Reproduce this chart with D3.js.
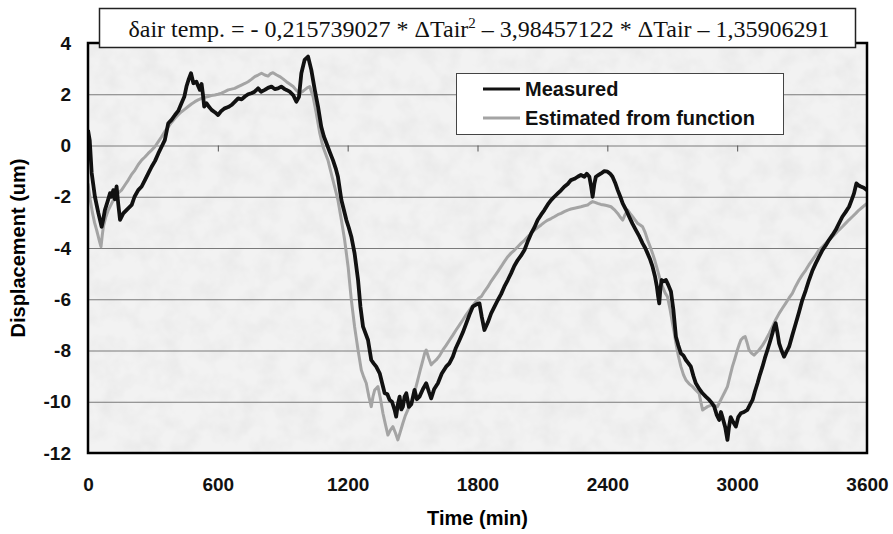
<!DOCTYPE html>
<html>
<head>
<meta charset="utf-8">
<script src="https://cdn.jsdelivr.net/npm/d3@7"></script>
<style>
  body { margin: 0; background: #fff; }
  svg { display: block; }
  .tick text { font-family: "Liberation Sans", Arial, sans-serif; font-weight: bold; font-size: 19px; fill: #111; }
</style>
</head>
<body>
<div id="chart-area"></div>
<script>
const W = 893, H = 534
const MARGIN = { LEFT: 88, RIGHT: 26, TOP: 43, BOTTOM: 81 }

const xTicks = [0, 600, 1200, 1800, 2400, 3000, 3600]
const yTicks = [4, 2, 0, -2, -4, -6, -8, -10, -12]
const gridValues = [2, 0, -2, -4, -6, -8, -10]

// [time (min), displacement (um)]
const measured = [
  [0,0.6],[8,0.2],[17,-1.07],[32,-2.0],[48,-2.64],[63,-3.17],[70,-2.9],[78,-2.52],[90,-2.2],[102,-1.86],
  [108,-2.0],[117,-1.74],[124,-2.1],[132,-1.6],[140,-2.3],[148,-2.9],[163,-2.65],[180,-2.5],[202,-2.32],[215,-2.0],
  [232,-1.74],[248,-1.6],[263,-1.35],[278,-1.1],[294,-0.83],[310,-0.6],[325,-0.31],[340,-0.05],[355,0.21],[371,0.87],
  [386,1.0],[402,1.19],[417,1.35],[432,1.65],[445,1.9],[455,2.3],[466,2.6],[476,2.82],[487,2.43],[501,2.49],
  [510,2.3],[517,2.17],[525,2.4],[531,2.0],[537,1.52],[548,1.65],[560,1.5],[571,1.39],[586,1.3],[601,1.19],
  [616,1.35],[632,1.45],[648,1.5],[663,1.58],[678,1.7],[694,1.84],[710,1.8],[725,1.91],[740,2.0],[755,2.04],
  [770,2.1],[786,2.23],[800,2.1],[817,2.17],[832,2.25],[848,2.3],[863,2.2],[878,2.23],[893,2.3],[909,2.2],
  [917,2.17],[932,2.1],[948,1.97],[963,1.71],[975,1.9],[986,2.82],[1001,3.34],[1017,3.47],[1032,2.95],[1048,2.17],
  [1063,1.52],[1078,0.73],[1090,0.35],[1102,0.09],[1117,-0.25],[1132,-0.57],[1145,-0.9],[1155,-1.22],[1171,-2.13],[1182,-2.5],
  [1194,-2.91],[1205,-3.2],[1217,-3.56],[1232,-4.21],[1248,-5.25],[1259,-6.29],[1271,-7.07],[1294,-7.59],[1309,-8.37],[1320,-8.5],
  [1332,-8.63],[1348,-8.89],[1360,-9.3],[1371,-9.67],[1383,-9.7],[1394,-9.93],[1405,-10.0],[1417,-10.32],[1424,-10.58],[1432,-10.1],
  [1440,-9.8],[1448,-10.3],[1455,-10.2],[1463,-9.8],[1471,-9.67],[1483,-10.2],[1494,-10.1],[1509,-9.54],[1520,-9.9],[1532,-9.8],
  [1548,-9.5],[1563,-9.28],[1575,-9.6],[1586,-9.87],[1600,-9.5],[1617,-9.28],[1635,-8.9],[1655,-8.63],[1670,-8.5],[1686,-8.24],
  [1700,-7.9],[1717,-7.59],[1732,-7.3],[1748,-6.94],[1763,-6.6],[1778,-6.29],[1795,-6.2],[1809,-6.16],[1820,-6.7],[1832,-7.2],
  [1848,-6.9],[1863,-6.55],[1878,-6.3],[1894,-6.03],[1909,-5.8],[1924,-5.51],[1940,-5.25],[1955,-4.99],[1970,-4.7],[1986,-4.47],
  [2001,-4.3],[2017,-4.08],[2032,-3.75],[2048,-3.43],[2063,-3.2],[2078,-2.91],[2094,-2.7],[2109,-2.52],[2125,-2.3],[2140,-2.13],
  [2155,-2.0],[2171,-1.87],[2186,-1.75],[2201,-1.61],[2217,-1.5],[2232,-1.35],[2248,-1.3],[2263,-1.22],[2278,-1.15],[2294,-1.22],
  [2305,-1.1],[2317,-1.22],[2325,-1.6],[2332,-2.0],[2340,-1.5],[2347,-1.22],[2360,-1.15],[2371,-1.09],[2386,-1.0],[2401,-1.02],
  [2413,-1.1],[2424,-1.22],[2436,-1.45],[2448,-1.74],[2460,-2.0],[2471,-2.26],[2486,-2.5],[2501,-2.78],[2516,-3.05],[2532,-3.3],
  [2548,-3.55],[2563,-3.82],[2575,-4.0],[2586,-4.21],[2598,-4.45],[2609,-4.73],[2620,-5.1],[2629,-5.51],[2635,-5.9],[2640,-6.16],
  [2645,-5.6],[2651,-5.25],[2660,-5.3],[2671,-5.25],[2682,-5.45],[2694,-5.7],[2705,-6.4],[2717,-7.46],[2728,-7.8],[2740,-8.11],
  [2752,-8.2],[2763,-8.37],[2775,-8.5],[2786,-8.63],[2798,-9.0],[2809,-9.28],[2825,-9.5],[2840,-9.67],[2855,-9.8],[2871,-9.93],
  [2883,-10.05],[2894,-10.19],[2905,-10.5],[2917,-10.71],[2925,-10.4],[2932,-10.6],[2945,-11.0],[2955,-11.49],[2962,-11.0],[2970,-10.6],
  [2982,-10.8],[2994,-10.97],[3005,-10.6],[3017,-10.45],[3032,-10.4],[3047,-10.32],[3060,-10.1],[3071,-9.93],[3082,-9.6],[3094,-9.28],
  [3105,-8.95],[3117,-8.63],[3128,-8.3],[3140,-7.98],[3152,-7.65],[3163,-7.33],[3170,-7.1],[3178,-6.94],[3186,-7.3],[3194,-7.72],
  [3205,-8.0],[3217,-8.24],[3228,-8.05],[3240,-7.85],[3255,-7.4],[3271,-6.94],[3286,-6.5],[3301,-6.03],[3317,-5.65],[3332,-5.25],
  [3347,-4.9],[3363,-4.6],[3378,-4.35],[3394,-4.08],[3409,-3.9],[3424,-3.69],[3440,-3.5],[3455,-3.3],[3470,-3.05],[3486,-2.78],
  [3501,-2.6],[3517,-2.39],[3530,-2.1],[3540,-1.87],[3551,-1.48],[3560,-1.55],[3571,-1.6],[3585,-1.65],[3600,-1.74]
]

const estimated = [
  [0,-1.48],[10,-2.1],[20,-2.6],[30,-3.0],[40,-3.3],[52,-3.7],[60,-3.95],[66,-3.5],[71,-3.17],[82,-2.8],
  [94,-2.52],[110,-2.25],[125,-2.0],[140,-1.85],[155,-1.74],[170,-1.55],[186,-1.35],[200,-1.15],[217,-0.96],[232,-0.75],
  [248,-0.57],[263,-0.45],[278,-0.31],[294,-0.18],[309,-0.05],[325,0.15],[340,0.34],[355,0.55],[371,0.73],[386,0.9],
  [402,1.06],[417,1.2],[432,1.32],[448,1.42],[463,1.52],[478,1.62],[494,1.71],[509,1.78],[525,1.84],[540,1.88],
  [555,1.91],[570,1.95],[586,1.97],[601,2.0],[617,2.04],[632,2.1],[648,2.17],[663,2.2],[678,2.23],[694,2.3],
  [709,2.36],[725,2.42],[740,2.49],[755,2.58],[771,2.69],[786,2.75],[802,2.82],[817,2.75],[832,2.71],[843,2.8],
  [855,2.84],[870,2.76],[886,2.69],[901,2.6],[917,2.49],[932,2.4],[948,2.3],[963,2.15],[978,2.04],[990,2.1],
  [1001,2.17],[1013,2.25],[1025,2.3],[1040,1.91],[1055,1.26],[1071,0.48],[1086,-0.05],[1097,-0.3],[1109,-0.57],[1120,-0.95],
  [1132,-1.35],[1144,-1.75],[1155,-2.13],[1171,-2.91],[1186,-3.69],[1202,-4.73],[1217,-6.03],[1232,-7.07],[1248,-7.98],[1263,-8.76],
  [1275,-9.05],[1286,-9.28],[1298,-9.8],[1309,-10.19],[1317,-9.8],[1325,-9.54],[1340,-9.41],[1352,-9.9],[1363,-10.45],[1375,-10.9],
  [1386,-11.3],[1398,-11.1],[1409,-10.97],[1420,-11.2],[1432,-11.49],[1444,-11.15],[1455,-10.84],[1466,-10.55],[1478,-10.32],[1490,-10.1],
  [1501,-9.93],[1512,-9.55],[1524,-9.15],[1536,-8.75],[1548,-8.37],[1556,-8.1],[1563,-7.98],[1575,-8.3],[1586,-8.56],[1598,-8.45],
  [1609,-8.37],[1625,-8.2],[1640,-7.98],[1655,-7.8],[1671,-7.59],[1686,-7.4],[1701,-7.2],[1717,-7.0],[1732,-6.81],[1748,-6.6],
  [1763,-6.42],[1786,-6.16],[1806,-5.95],[1817,-5.9],[1832,-5.7],[1848,-5.51],[1863,-5.3],[1878,-5.12],[1894,-4.92],[1909,-4.73],
  [1924,-4.53],[1940,-4.34],[1955,-4.2],[1971,-4.08],[1986,-3.95],[2001,-3.82],[2017,-3.7],[2032,-3.56],[2048,-3.43],[2063,-3.3],
  [2078,-3.2],[2094,-3.1],[2109,-3.0],[2125,-2.91],[2140,-2.85],[2155,-2.78],[2171,-2.7],[2186,-2.65],[2201,-2.58],[2217,-2.52],
  [2232,-2.48],[2248,-2.45],[2263,-2.42],[2278,-2.39],[2294,-2.35],[2309,-2.32],[2320,-2.25],[2332,-2.19],[2343,-2.22],[2355,-2.26],
  [2370,-2.3],[2386,-2.32],[2401,-2.35],[2417,-2.39],[2432,-2.5],[2448,-2.65],[2460,-2.8],[2471,-2.91],[2482,-2.7],[2494,-2.52],
  [2505,-2.65],[2517,-2.78],[2528,-2.9],[2540,-3.04],[2552,-3.1],[2563,-3.17],[2575,-3.4],[2586,-3.69],[2598,-3.95],[2609,-4.21],
  [2620,-4.5],[2632,-4.86],[2643,-5.2],[2655,-5.51],[2667,-5.75],[2678,-5.9],[2690,-6.4],[2701,-6.94],[2709,-7.3],[2717,-7.72],
  [2728,-8.2],[2740,-8.63],[2752,-8.95],[2763,-9.15],[2778,-9.3],[2794,-9.41],[2809,-9.55],[2824,-9.67],[2832,-10.0],[2840,-10.32],
  [2852,-10.25],[2863,-10.19],[2875,-10.15],[2886,-10.1],[2898,-10.15],[2909,-10.19],[2920,-10.0],[2932,-9.8],[2944,-9.6],[2955,-9.41],
  [2967,-9.0],[2978,-8.63],[2990,-8.3],[3001,-7.98],[3010,-7.75],[3017,-7.59],[3027,-7.5],[3037,-7.46],[3046,-7.7],[3055,-7.98],
  [3066,-8.1],[3078,-8.18],[3090,-8.08],[3101,-7.98],[3117,-7.8],[3132,-7.59],[3148,-7.33],[3163,-7.07],[3178,-6.8],[3194,-6.55],
  [3209,-6.35],[3224,-6.16],[3240,-5.95],[3255,-5.77],[3270,-5.5],[3286,-5.25],[3301,-5.05],[3317,-4.86],[3332,-4.65],[3347,-4.47],
  [3363,-4.28],[3378,-4.08],[3394,-3.95],[3409,-3.82],[3424,-3.7],[3440,-3.56],[3455,-3.43],[3470,-3.3],[3486,-3.17],[3501,-3.04],
  [3517,-2.9],[3532,-2.78],[3548,-2.65],[3563,-2.52],[3580,-2.4],[3600,-2.26]
]

const seriesNames = ["Measured", "Estimated from function"]
const seriesColors = ["#111111", "#a4a4a4"]

const x = d3.scaleLinear().domain([0, 3600]).range([MARGIN.LEFT, W - MARGIN.RIGHT])
const y = d3.scaleLinear().domain([-12, 4]).range([H - MARGIN.BOTTOM, MARGIN.TOP])

const svg = d3.select("#chart-area").append("svg")
  .attr("width", W)
  .attr("height", H)

// mottled plot background
const defs = svg.append("defs")
const f = defs.append("filter").attr("id", "mottle")
  .attr("x", 0).attr("y", 0).attr("width", 1).attr("height", 1)
f.append("feTurbulence")
  .attr("type", "fractalNoise")
  .attr("baseFrequency", 0.05)
  .attr("numOctaves", 3)
  .attr("seed", 7)
f.append("feColorMatrix")
  .attr("type", "matrix")
  .attr("values", "0 0 0 0 0.5  0 0 0 0 0.5  0 0 0 0 0.5  0.3 0 0 0 -0.11")
defs.append("clipPath").attr("id", "plotclip")
  .append("rect")
  .attr("x", x(0)).attr("y", y(4))
  .attr("width", x(3600) - x(0)).attr("height", y(-12) - y(4))

svg.append("rect")
  .attr("x", x(0)).attr("y", y(4))
  .attr("width", x(3600) - x(0)).attr("height", y(-12) - y(4))
  .attr("fill", "#f2f2f2")
svg.append("rect")
  .attr("x", x(0)).attr("y", y(4))
  .attr("width", x(3600) - x(0)).attr("height", y(-12) - y(4))
  .attr("filter", "url(#mottle)")

// gridlines
svg.append("g")
  .attr("transform", `translate(${x(0)},0)`)
  .call(d3.axisLeft(y).tickValues(gridValues).tickSize(-(x(3600) - x(0))).tickFormat(""))
  .call(g => g.select(".domain").remove())
  .call(g => g.selectAll("line").attr("stroke", "#7a7a7a").attr("stroke-width", 1))

// ticks hanging from the zero line
svg.append("g")
  .attr("transform", `translate(0,${y(0)})`)
  .call(d3.axisBottom(x).tickValues(xTicks.slice(1, -1)).tickSize(6).tickFormat(""))
  .call(g => g.select(".domain").remove())
  .call(g => g.selectAll("line").attr("stroke", "#555").attr("stroke-width", 1))

const line = d3.line()
  .x(d => x(d[0]))
  .y(d => y(d[1]))

const lines = svg.append("g").attr("clip-path", "url(#plotclip)")
lines.append("path")
  .attr("fill", "none")
  .attr("stroke", seriesColors[1])
  .attr("stroke-width", 3)
  .attr("stroke-linejoin", "round")
  .attr("d", line(estimated))
lines.append("path")
  .attr("fill", "none")
  .attr("stroke", seriesColors[0])
  .attr("stroke-width", 3.8)
  .attr("stroke-linejoin", "round")
  .attr("d", line(measured))

// frame
svg.append("rect")
  .attr("x", x(0)).attr("y", y(4))
  .attr("width", x(3600) - x(0)).attr("height", y(-12) - y(4))
  .attr("fill", "none")
  .attr("stroke", "#000")
  .attr("stroke-width", 2.5)

// axes labels
svg.append("g")
  .attr("transform", `translate(${x(0)},0)`)
  .call(d3.axisLeft(y).tickValues(yTicks).tickSize(0).tickPadding(17).tickFormat(d => String(d)))
  .call(g => g.select(".domain").remove())

svg.append("g")
  .attr("transform", `translate(0,${y(-12)})`)
  .call(d3.axisBottom(x).tickValues(xTicks).tickSize(0).tickPadding(25).tickFormat(d => String(d)))
  .call(g => g.select(".domain").remove())

svg.append("text")
  .attr("x", (x(0) + x(3600)) / 2)
  .attr("y", 525)
  .attr("text-anchor", "middle")
  .style("font-family", "'Liberation Sans', Arial, sans-serif")
  .style("font-weight", "bold")
  .style("font-size", "20px")
  .text("Time (min)")

svg.append("text")
  .attr("transform", `translate(25,${(y(4) + y(-12)) / 2}) rotate(-90)`)
  .attr("text-anchor", "middle")
  .style("font-family", "'Liberation Sans', Arial, sans-serif")
  .style("font-weight", "bold")
  .style("font-size", "20px")
  .text("Displacement (um)")

// equation box
svg.append("rect")
  .attr("x", 99.5).attr("y", 8.5)
  .attr("width", 756).attr("height", 39)
  .attr("fill", "#fff")
  .attr("stroke", "#222")
  .attr("stroke-width", 1.5)

const eq = svg.append("text")
  .attr("x", 479)
  .attr("y", 37)
  .attr("text-anchor", "middle")
  .style("font-family", "'Liberation Serif', 'Times New Roman', serif")
  .style("font-size", "24px")
  .attr("fill", "#111")
eq.append("tspan").text("δair temp. = - 0,215739027 * ΔTair")
eq.append("tspan").attr("dy", -9).style("font-size", "15px").text("2")
eq.append("tspan").attr("dy", 9).text(" – 3,98457122 * ΔTair – 1,35906291")

// legend
const legend = svg.append("g")
legend.append("rect")
  .attr("x", 456.5).attr("y", 73.5)
  .attr("width", 327).attr("height", 61)
  .attr("fill", "#fff")
  .attr("stroke", "#444")
  .attr("stroke-width", 1)

seriesNames.forEach((name, i) => {
  const ly = 89 + i * 29
  legend.append("line")
    .attr("x1", 483).attr("x2", 520)
    .attr("y1", ly).attr("y2", ly)
    .attr("stroke", seriesColors[i])
    .attr("stroke-width", 3)
  legend.append("text")
    .attr("x", 525)
    .attr("y", ly + 7)
    .style("font-family", "'Liberation Sans', Arial, sans-serif")
    .style("font-weight", "bold")
    .style("font-size", "20px")
    .attr("fill", "#111")
    .text(name)
})
</script>
</body>
</html>
